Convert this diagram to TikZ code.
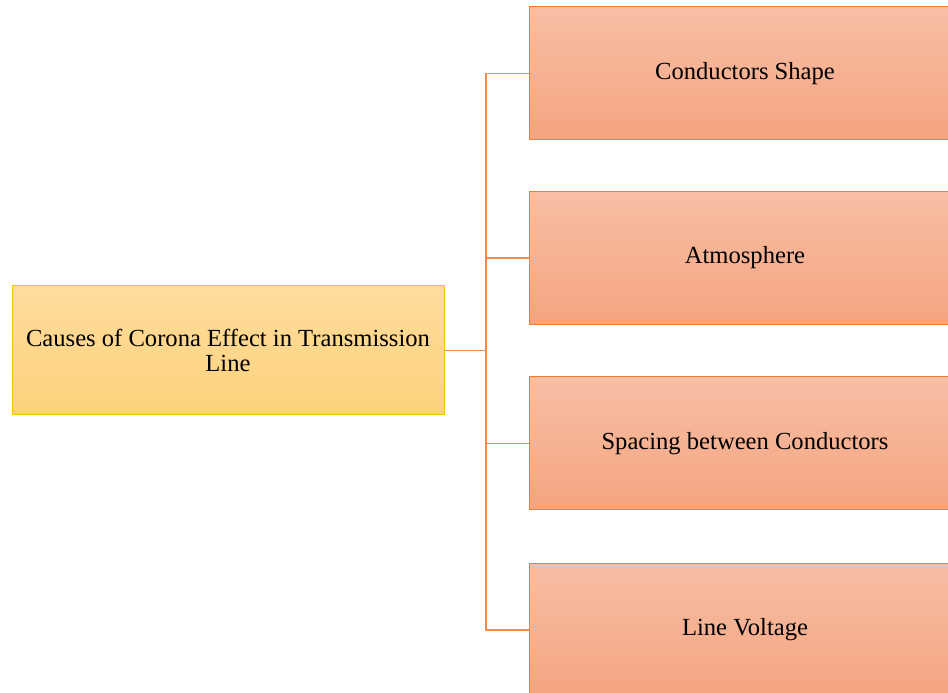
\documentclass[tikz,border=0pt]{standalone}
\usepackage{fontspec}
\setmainfont{Liberation Serif}
\definecolor{rootTop}{HTML}{FEDC9C}
\definecolor{rootBot}{HTML}{FDD27C}
\definecolor{rootLine}{HTML}{FFC000}
\definecolor{leafTop}{HTML}{F7BFA6}
\definecolor{leafBot}{HTML}{F5A47F}
\definecolor{leafLine}{HTML}{ED7D31}
\definecolor{linkLine}{HTML}{F08B4C}
\tikzset{
  x=1pt, y=1pt,
  rootbox/.style={draw=rootLine, line width=1pt, top color=rootTop, bottom color=rootBot,
    minimum width=432pt, minimum height=129pt, inner sep=0pt, align=center,
    font=\fontsize{24.6}{25.5}\selectfont},
  leafbox/.style={draw=leafLine, line width=1pt, top color=leafTop, bottom color=leafBot,
    minimum width=432pt, minimum height=133pt, inner sep=0pt, align=center,
    font=\fontsize{24.6}{25.5}\selectfont},
  link/.style={draw=linkLine, line width=1.5pt}
}
\begin{document}
\begin{tikzpicture}
\useasboundingbox (0,0) rectangle (948,693);
\clip (0,0) rectangle (948,693);
\node[rootbox] (root) at (228,342.5) {Causes of Corona Effect in Transmission\\Line};
\node[leafbox] (shape) at (745,619.5) {Conductors Shape};
\node[leafbox] (atmo)  at (745,435)   {Atmosphere};
\node[leafbox] (space) at (745,249.5) {Spacing between Conductors};
\node[leafbox] (volt)  at (745,63)    {Line Voltage};
\coordinate (fork) at (486,0);
\foreach \leaf in {shape,atmo,space,volt}
  \draw[link] (root.east) -- (root.east -| fork) |- (\leaf.west);
\end{tikzpicture}
\end{document}
